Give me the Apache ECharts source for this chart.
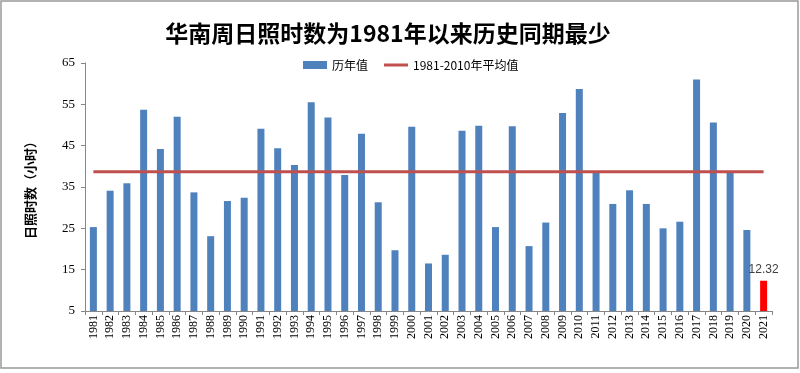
<!DOCTYPE html>
<html><head><meta charset="utf-8">
<script src="https://cdn.jsdelivr.net/npm/echarts@6/dist/echarts.min.js"></script>
<style>html,body{margin:0;padding:0;background:#fff}#c{width:800px;height:373px}</style>
</head><body><div id="c"></div>
<script>
var titleText = '华南周日照时数为1981年以来历史同期最少';
var years = ['1981','1982','1983','1984','1985','1986','1987','1988','1989','1990','1991','1992','1993','1994','1995','1996','1997','1998','1999','2000','2001','2002','2003','2004','2005','2006','2007','2008','2009','2010','2011','2012','2013','2014','2015','2016','2017','2018','2019','2020','2021'];
var values = [25.3,34.1,35.9,53.7,44.2,52.0,33.7,23.1,31.6,32.4,49.1,44.4,40.3,55.5,51.8,37.9,47.9,31.3,19.7,49.6,16.5,18.6,48.6,49.8,25.3,49.7,20.7,26.4,52.9,58.7,38.4,30.9,34.2,30.9,25.0,26.6,61.0,50.6,38.4,24.6,12.32];
var average = 38.7;
var highlightYear = '2021';
var yTicks = {min: 5, max: 65, interval: 10};

var chart = echarts.init(document.getElementById('c'));
var barData = values.map(function(v, i){
  if (years[i] === highlightYear) {
    return {value: v, itemStyle: {color: '#FF0000'}, label: {show: true, position: 'top', formatter: '{c}', color: '#404040', fontSize: 12, fontFamily: 'Liberation Sans'}};
  }
  return v;
});
var avgData = years.map(function(){ return average; });
chart.setOption({
  animation: false,
  backgroundColor: '#fff',
  title: {text: titleText, left: 383, top: 17, textAlign: 'center',
    textStyle: {fontFamily: 'Noto Sans CJK SC', fontWeight: 'bold', fontSize: 23, color: '#000'}},
  legend: {top: 54, left: 298, itemGap: 16, itemWidth: 24, itemHeight: 8,
    textStyle: {fontFamily: 'Noto Sans CJK SC', fontSize: 12, color: '#000'},
    data: [{name: '历年值', icon: 'rect'}, {name: '1981-2010年平均值', icon: 'path://M0,0H24V3H0Z'}]},
  grid: {left: 85, right: 28, top: 63, bottom: 62},
  xAxis: {type: 'category', data: years,
    axisLine: {lineStyle: {color: '#868686'}},
    axisTick: {show: true, length: 4, lineStyle: {color: '#868686'}},
    axisLabel: {rotate: 90, interval: 0, fontFamily: 'Liberation Serif', fontSize: 12, color: '#000', margin: 4}},
  yAxis: {type: 'value', min: yTicks.min, max: yTicks.max, interval: yTicks.interval,
    name: '日照时数（小时）', nameLocation: 'middle', nameGap: 48, nameRotate: 90,
    nameTextStyle: {fontFamily: 'Noto Sans CJK SC', fontWeight: 'bold', fontSize: 13, color: '#000'},
    axisLine: {show: true, lineStyle: {color: '#868686'}},
    axisTick: {show: true, length: 4, lineStyle: {color: '#868686'}},
    splitLine: {show: false},
    axisLabel: {fontFamily: 'Liberation Serif', fontSize: 13, color: '#000', margin: 10}},
  series: [
    {name: '历年值', type: 'bar', data: barData, barWidth: 7, itemStyle: {color: '#4F81BD'}},
    {name: '1981-2010年平均值', type: 'line', data: avgData, symbol: 'none',
      lineStyle: {color: '#C0504D', width: 3}, itemStyle: {color: '#C0504D'}, z: 3}
  ],
  graphic: [{type: 'rect', shape: {x: 1, y: 1, width: 797, height: 367},
    style: {fill: 'none', stroke: '#999', lineWidth: 1.5}, silent: true}]
});
</script></body></html>
